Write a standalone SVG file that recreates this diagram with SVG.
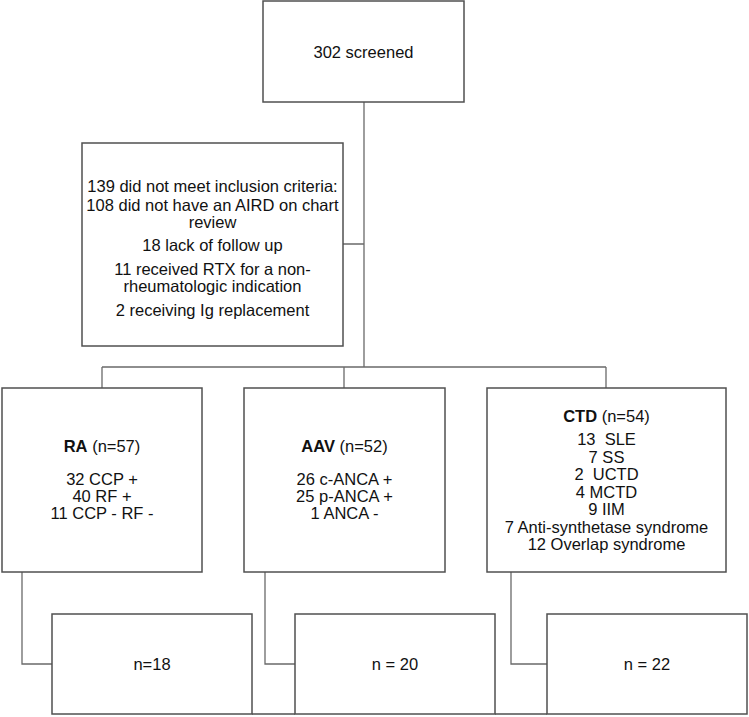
<svg xmlns="http://www.w3.org/2000/svg" width="749" height="717" viewBox="0 0 749 717">
<style>
.box{fill:#fff;stroke:#505050;stroke-width:1.5}
.con{fill:none;stroke:#6a6a6a;stroke-width:1.3}
text{font-family:"Liberation Sans",Arial,sans-serif;font-size:16.5px;fill:#111;text-anchor:middle}
.b{font-weight:bold}
.pre{white-space:pre}
</style>
<rect width="749" height="717" fill="#fff"/>
<g id="connectors">
<path class="con" d="M364 102V367M343 244H364M102 367H606M102 367V388M344 367V388M606 367V388"/>
<path class="con" d="M22 572V664H52M265 572V664H295M511 572V664H547"/>
<path class="con" d="M252 714H295M495 714H547" style="stroke:#505050;stroke-width:1.5"/>
</g>
<g id="screened">
<rect class="box" x="263" y="1" width="201" height="101"/>
<text x="363.5" y="58">302 screened</text>
</g>
<g id="excluded">
<rect class="box" x="82" y="143" width="261" height="203"/>
<text x="212.5" y="192">139 did not meet inclusion criteria:</text>
<text x="212.5" y="211">108 did not have an AIRD on chart</text>
<text x="212.5" y="228">review</text>
<text x="212.5" y="251">18 lack of follow up</text>
<text x="212.5" y="275">11 received RTX for a non-</text>
<text x="212.5" y="292">rheumatologic indication</text>
<text x="212.5" y="316">2 receiving Ig replacement</text>
</g>
<g id="ra">
<rect class="box" x="2" y="388" width="200" height="184"/>
<text x="102" y="452"><tspan class="b">RA</tspan> (n=57)</text>
<text x="102" y="485">32 CCP +</text>
<text x="102" y="502">40 RF +</text>
<text x="102" y="519">11 CCP - RF -</text>
</g>
<g id="aav">
<rect class="box" x="244" y="388" width="201" height="184"/>
<text x="344.5" y="452"><tspan class="b">AAV</tspan> (n=52)</text>
<text x="344.5" y="485">26 c-ANCA +</text>
<text x="344.5" y="502">25 p-ANCA +</text>
<text x="344.5" y="519">1 ANCA -</text>
</g>
<g id="ctd">
<rect class="box" x="487" y="388" width="239" height="184"/>
<text x="606.5" y="422"><tspan class="b">CTD</tspan> (n=54)</text>
<text class="pre" x="606.5" y="445">13  SLE</text>
<text x="606.5" y="462.5">7 SS</text>
<text class="pre" x="606.5" y="480">2  UCTD</text>
<text x="606.5" y="497.5">4 MCTD</text>
<text x="606.5" y="515">9 IIM</text>
<text x="606.5" y="532.5">7 Anti-synthetase syndrome</text>
<text x="606.5" y="550">12 Overlap syndrome</text>
</g>
<g id="ra-n">
<rect class="box" x="52" y="614" width="200" height="100"/>
<text x="152" y="670">n=18</text>
</g>
<g id="aav-n">
<rect class="box" x="295" y="614" width="200" height="100"/>
<text x="395" y="670">n = 20</text>
</g>
<g id="ctd-n">
<rect class="box" x="547" y="614" width="200" height="100"/>
<text x="647" y="670">n = 22</text>
</g>
</svg>
